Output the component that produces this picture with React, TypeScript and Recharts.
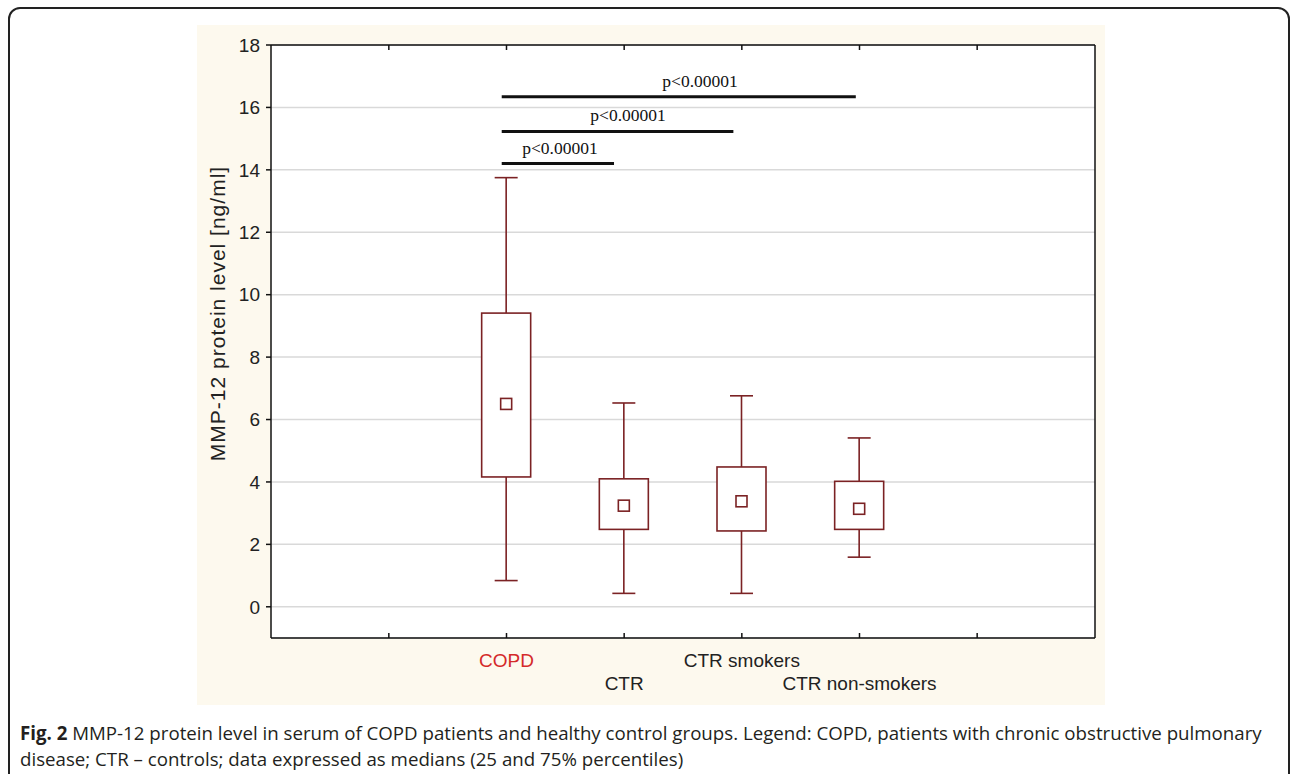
import React from "react";
import {
  ComposedChart,
  Bar,
  XAxis,
  YAxis,
  CartesianGrid,
  ReferenceLine,
  ReferenceDot,
} from "recharts";

// ---- data ----
const categories = ["", "COPD", "CTR", "CTR smokers", "CTR non-smokers", ""];
const whiskerMin: (number | null)[] = [null, 0.84, 0.43, 0.43, 1.59, null];
const quartile1: (number | null)[] = [null, 4.16, 2.48, 2.43, 2.48, null];
const medians: (number | null)[] = [null, 6.5, 3.24, 3.38, 3.14, null];
const quartile3: (number | null)[] = [null, 9.41, 4.1, 4.48, 4.02, null];
const whiskerMax: (number | null)[] = [null, 13.75, 6.53, 6.76, 5.41, null];

const yTicks = [0, 2, 4, 6, 8, 10, 12, 14, 16, 18];

const sigStart = [1.96, 1.96, 1.96];
const sigEnd = [2.914, 3.928, 4.968];
const sigLevel = [14.2, 15.23, 16.34];
const sigLabelPos = [2.455, 3.033, 3.645];
const sigLabels = ["p<0.00001", "p<0.00001", "p<0.00001"];

const labelColors = ["#222", "#d42a2a", "#222", "#222", "#222", "#222"];

const rows = categories.map((name, i) => ({
  slot: i,
  pos: i + 1,
  name,
  lo: whiskerMin[i],
  q1: quartile1[i],
  med: medians[i],
  q3: quartile3[i],
  hi: whiskerMax[i],
}));

const BOX = "#7b2224";
const SANS = "'Liberation Sans', Arial, sans-serif";

const BoxShape = (props: any) => {
  const { x, y, width, height, payload } = props;
  if (!payload || payload.lo == null || payload.hi == null || !height) return null;
  const { lo, q1, med, q3, hi } = payload;
  const ppu = height / (hi - lo);
  const py = (v: number) => y + (hi - v) * ppu;
  const cx = x + width / 2;
  const capW = 23;
  const sq = 11;
  return (
    <g stroke={BOX} strokeWidth={1.6}>
      <line x1={cx} x2={cx} y1={py(hi)} y2={py(q3)} />
      <line x1={cx} x2={cx} y1={py(q1)} y2={py(lo)} />
      <line x1={cx - capW / 2} x2={cx + capW / 2} y1={py(hi)} y2={py(hi)} />
      <line x1={cx - capW / 2} x2={cx + capW / 2} y1={py(lo)} y2={py(lo)} />
      <rect x={x} y={py(q3)} width={width} height={py(q1) - py(q3)} fill="#fff" />
      <rect x={cx - sq / 2} y={py(med) - sq / 2} width={sq} height={sq} fill="#fff" />
    </g>
  );
};

const BottomTick = (props: any) => {
  const { x, y, payload } = props;
  const i = Number(payload.value);
  const label = categories[i] || "";
  const dy = i % 2 === 1 ? 29 : 52;
  return (
    <g>
      <line x1={x} x2={x} y1={y} y2={y - 5} stroke="#111" strokeWidth={1.5} />
      {label ? (
        <text
          x={x}
          y={y + dy}
          textAnchor="middle"
          fill={labelColors[i]}
          fontSize={19}
          fontFamily={SANS}
        >
          {label}
        </text>
      ) : null}
    </g>
  );
};

const EmptyTick = () => <g />;

const SigText = (text: string) => (props: any) => {
  const { cx, cy } = props;
  if (cx == null || cy == null) return <g />;
  return (
    <text
      x={cx}
      y={cy - 10}
      textAnchor="middle"
      fontSize={17.5}
      fontFamily="'Liberation Serif', 'Times New Roman', serif"
      fill="#111"
    >
      {text}
    </text>
  );
};

const YLabel = (props: any) => {
  const { viewBox } = props;
  const x = viewBox.x + 6;
  const y = viewBox.y + viewBox.height / 2 - 28;
  return (
    <text
      transform={`translate(${x},${y}) rotate(-90)`}
      textAnchor="middle"
      dominantBaseline="central"
      fontSize={21}
      letterSpacing={1}
      fontFamily={SANS}
      fill="#222"
    >
      MMP-12 protein level [ng/ml]
    </text>
  );
};

export default function App() {
  return (
    <div
      style={{
        position: "absolute",
        left: 0,
        top: 0,
        width: 1292,
        height: 774,
        background: "#fff",
        overflow: "hidden",
      }}
    >
      <div
        style={{
          position: "absolute",
          left: 8,
          top: 7,
          width: 1278,
          height: 820,
          border: "2px solid #222",
          borderRadius: 12,
        }}
      />
      <div
        style={{
          position: "absolute",
          left: 197,
          top: 25,
          width: 908,
          height: 680,
          background: "#fdf9ee",
        }}
      >
        <ComposedChart
          width={908}
          height={680}
          data={rows}
          margin={{ top: 20, right: 5, bottom: 7, left: 14 }}
        >
          <CartesianGrid
            vertical={false}
            stroke="#d9d9d9"
            strokeWidth={1.5}
            fill="#fff"
            fillOpacity={1}
          />
          <XAxis
            dataKey="slot"
            type="category"
            padding={{ left: 59, right: 59 }}
            height={60}
            axisLine={{ stroke: "#111", strokeWidth: 1.5 }}
            tickLine={false}
            tickSize={0}
            tickMargin={0}
            tick={<BottomTick />}
            interval={0}
          />
          <XAxis
            xAxisId="top"
            dataKey="slot"
            type="category"
            orientation="top"
            padding={{ left: 59, right: 59 }}
            height={1}
            mirror
            axisLine={{ stroke: "#111", strokeWidth: 1.5 }}
            tickLine={{ stroke: "#111", strokeWidth: 1.5 }}
            tickSize={5}
            tick={EmptyTick}
            interval={0}
          />
          <XAxis
            xAxisId="num"
            type="number"
            dataKey="pos"
            domain={[0, 7]}
            allowDataOverflow
            hide
          />
          <YAxis
            domain={[-1, 18]}
            ticks={yTicks}
            width={60}
            interval={0}
            axisLine={{ stroke: "#111", strokeWidth: 1.5 }}
            tickLine={{ stroke: "#111", strokeWidth: 1.5 }}
            tickSize={5}
            tickMargin={6}
            tick={{ fill: "#222", fontSize: 19, fontFamily: SANS }}
            label={{ content: <YLabel /> }}
          />
          <YAxis
            yAxisId="right"
            orientation="right"
            domain={[-1, 18]}
            ticks={yTicks}
            width={5}
            interval={0}
            axisLine={{ stroke: "#111", strokeWidth: 1.5 }}
            tickLine={{ stroke: "#111", strokeWidth: 1.5 }}
            tickSize={4}
            tick={EmptyTick}
          />
          <Bar
            dataKey={(d: any) => (d.lo == null ? null : [d.lo, d.hi])}
            barSize={49}
            shape={<BoxShape />}
            isAnimationActive={false}
          />
          {sigLevel.map((lvl, i) => (
            <ReferenceLine
              key={`sl${i}`}
              xAxisId="num"
              yAxisId={0}
              segment={[
                { x: sigStart[i], y: lvl },
                { x: sigEnd[i], y: lvl },
              ]}
              stroke="#111"
              strokeWidth={3}
              ifOverflow="visible"
            />
          ))}
          {sigLevel.map((lvl, i) => (
            <ReferenceDot
              key={`sd${i}`}
              xAxisId="num"
              yAxisId={0}
              x={sigLabelPos[i]}
              y={lvl}
              r={1}
              ifOverflow="visible"
              shape={SigText(sigLabels[i])}
            />
          ))}
        </ComposedChart>
      </div>
      <div
        style={{
          position: "absolute",
          left: 20,
          top: 720,
          width: 1265,
          fontFamily: "'Open Sans', sans-serif",
          fontSize: 18.7,
          lineHeight: "26px",
          color: "#231f20",
          whiteSpace: "nowrap",
        }}
      >
        <b>Fig. 2</b> MMP-12 protein level in serum of COPD patients and healthy control groups. Legend: COPD,
        patients with chronic obstructive pulmonary
        <br />
        disease; CTR – controls; data expressed as medians (25 and 75% percentiles)
      </div>
    </div>
  );
}
